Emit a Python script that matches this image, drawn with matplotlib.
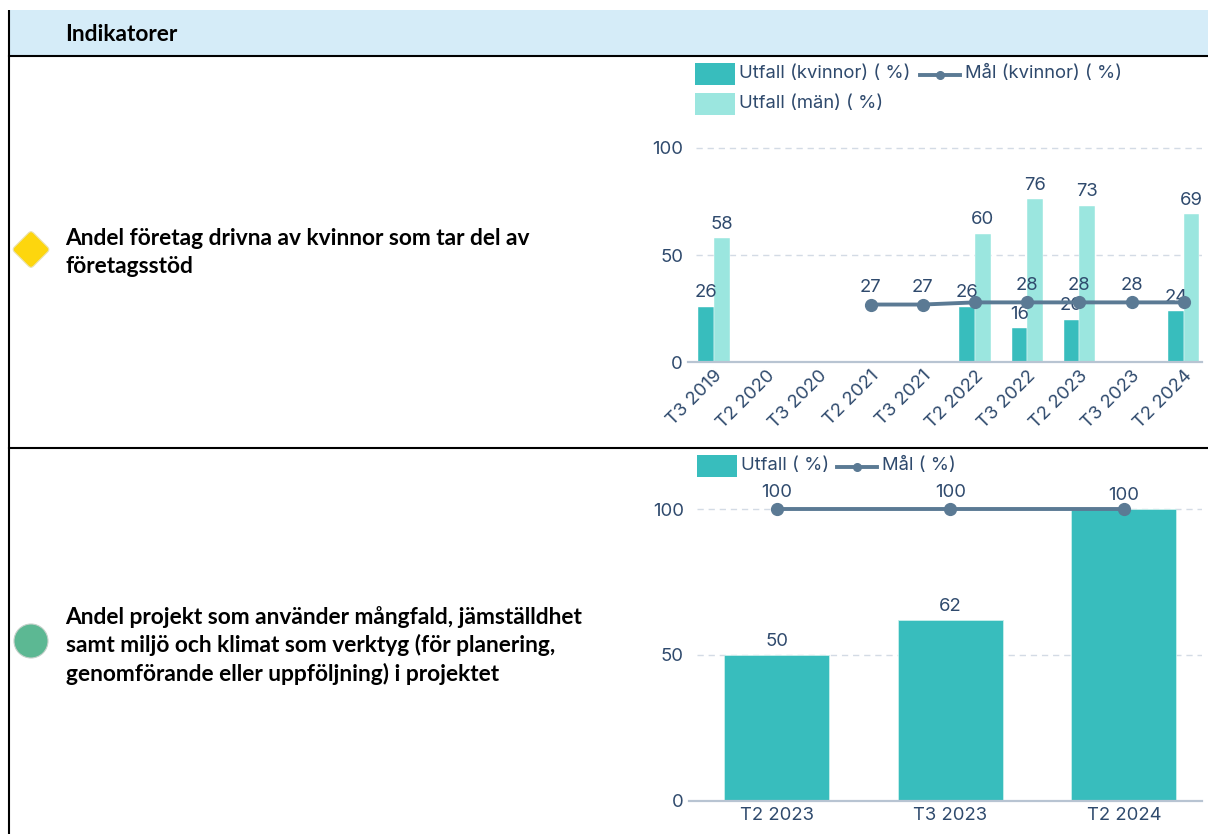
import matplotlib

matplotlib.use("Agg")
import matplotlib.pyplot as plt
import numpy as np
from matplotlib.patches import Circle, FancyBboxPatch, Rectangle
from matplotlib.transforms import Affine2D

FIG_W, FIG_H = 1208, 834

TEAL = "#38bdbd"
LIGHT_TEAL = "#9be6df"
LINE_COLOR = "#5b7a94"
TEXT_COLOR = "#2f4a6d"
GRID_COLOR = "#d3dbe5"
AXIS_COLOR = "#b8c4d2"
CHART_FONT = "Inter"
CHART_SIZE = 13.3
ROW_FONT = "Lato"
ROW_SIZE = 16.4

top_periods = ["T3 2019", "T2 2020", "T3 2020", "T2 2021", "T3 2021",
               "T2 2022", "T3 2022", "T2 2023", "T3 2023", "T2 2024"]
top_women = [26, None, None, None, None, 26, 16, 20, None, 24]
top_men = [58, None, None, None, None, 60, 76, 73, None, 69]
top_target = [None, None, None, 27, 27, 28, 28, 28, 28, 28]
# the source chart drops these target labels where they collide with a bar label
top_target_hidden = ["T2 2022", "T2 2024"]

bottom_periods = ["T2 2023", "T3 2023", "T2 2024"]
bottom_outcome = [50, 62, 100]
bottom_target = [100, 100, 100]
bottom_target_hidden = ["T2 2024"]

y_ticks = [0, 50, 100]


def axes_at(fig, left, top, right, bottom):
    """Add axes placed by pixel edges, measured from the top left corner."""
    return fig.add_axes([left / FIG_W, 1 - bottom / FIG_H,
                         (right - left) / FIG_W, (bottom - top) / FIG_H])


def to_array(values):
    return np.array([np.nan if v is None else v for v in values], dtype=float)


def style_axes(ax):
    ax.patch.set_alpha(0)
    ax.set_yticks(y_ticks)
    for side in ["top", "right", "left"]:
        ax.spines[side].set_visible(False)
    ax.spines["bottom"].set_color(AXIS_COLOR)
    ax.spines["bottom"].set_linewidth(1.6)
    ax.tick_params(axis="both", length=0, labelcolor=TEXT_COLOR, labelsize=CHART_SIZE)
    ax.tick_params(axis="y", pad=3.6)
    for label in ax.get_yticklabels():
        label.set_fontfamily(CHART_FONT)
    for value in y_ticks[1:]:
        ax.axhline(value, xmin=0.016, color=GRID_COLOR, linewidth=1,
                   linestyle=(0, (4.5, 3.5)), zorder=0)


def bar_labels(ax, xs, values):
    for x, value in zip(xs, values):
        if not np.isnan(value):
            ax.annotate(f"{value:.0f}", (x, value), xytext=(0, 10),
                        textcoords="offset points", ha="center", va="center",
                        color=TEXT_COLOR, fontsize=CHART_SIZE, family=CHART_FONT)


def target_line(ax, xs, values, periods, hidden):
    ax.plot(xs, values, color=LINE_COLOR, linewidth=2.8, marker="o",
            markersize=8.5, zorder=4)
    for x, value, period in zip(xs, values, periods):
        if np.isnan(value) or period in hidden:
            continue
        ax.annotate(f"{value:.0f}", (x, value), xytext=(0, 12.5),
                    textcoords="offset points", ha="center", va="center",
                    color=TEXT_COLOR, fontsize=CHART_SIZE, family=CHART_FONT, zorder=5)


fig = plt.figure(figsize=(FIG_W / 100, FIG_H / 100), dpi=100, facecolor="white")

# table frame, icons, row text and legends are laid out in pixels on this layer
page = fig.add_axes([0, 0, 1, 1])
page.set_xlim(0, FIG_W)
page.set_ylim(FIG_H, 0)
page.axis("off")

page.add_patch(Rectangle((9, 10), FIG_W - 9, 45, facecolor="#d5ecf8", edgecolor="none"))
page.plot([9, 9], [10, FIG_H], color="black", linewidth=1.5, solid_capstyle="butt")
page.plot([9, FIG_W], [55.5, 55.5], color="black", linewidth=1.5)
page.plot([9, FIG_W], [448, 448], color="black", linewidth=1.5)

page.text(65.5, 34, "Indikatorer", fontsize=ROW_SIZE, fontweight="bold",
          family=ROW_FONT, va="center", color="black")
page.text(65.5, 252.5, "Andel företag drivna av kvinnor som tar del av\nföretagsstöd",
          fontsize=ROW_SIZE, fontweight="bold", family=ROW_FONT, va="center",
          color="black", linespacing=1.38)
page.text(65.5, 645.5,
          "Andel projekt som använder mångfald, jämställdhet\n"
          "samt miljö och klimat som verktyg (för planering,\n"
          "genomförande eller uppföljning) i projektet",
          fontsize=ROW_SIZE, fontweight="bold", family=ROW_FONT, va="center",
          color="black", linespacing=1.38)

diamond = FancyBboxPatch((-13.5, -13.5), 27, 27, boxstyle="round,pad=0,rounding_size=3.5",
                         facecolor="#fdd60e", edgecolor="#e9e2b4", linewidth=0.8)
diamond.set_transform(Affine2D().rotate_deg(45).translate(31, 249.5) + page.transData)
page.add_patch(diamond)
page.add_patch(Circle((31, 641), 17, facecolor="#5cb893", edgecolor="#c3d0c9", linewidth=0.8))


def legend_box(x, y, color, text):
    page.add_patch(Rectangle((x, y), 40, 22, facecolor=color, edgecolor="none"))
    page.text(x + 44, y + 10.5, text, color=TEXT_COLOR, fontsize=CHART_SIZE,
              family=CHART_FONT, va="center")


def legend_line(x, y, text):
    page.plot([x, x + 40], [y, y], color=LINE_COLOR, linewidth=2.8)
    page.plot([x + 20], [y], color=LINE_COLOR, marker="o", markersize=5.5)
    page.text(x + 45, y - 1.5, text, color=TEXT_COLOR, fontsize=CHART_SIZE,
              family=CHART_FONT, va="center")


legend_box(695, 63, TEAL, "Utfall (kvinnor) ( %)")
legend_line(920, 75, "Mål (kvinnor) ( %)")
legend_box(695, 93, LIGHT_TEAL, "Utfall (män) ( %)")
legend_box(697, 455, TEAL, "Utfall ( %)")
legend_line(837, 467, "Mål ( %)")

# upper chart
ax1 = axes_at(fig, 688, 130, 1202, 362.5)
x1 = np.arange(len(top_periods))
women = to_array(top_women)
men = to_array(top_men)
target1 = to_array(top_target)
bar_w = 0.3
ax1.bar(x1 - bar_w / 2, np.nan_to_num(women), bar_w, color=TEAL, edgecolor="white", linewidth=0.3)
ax1.bar(x1 + bar_w / 2, np.nan_to_num(men), bar_w, color=LIGHT_TEAL, edgecolor="white", linewidth=0.3)
style_axes(ax1)
ax1.set_xticks(x1)
ax1.set_xticklabels(top_periods, rotation=45, ha="right", rotation_mode="anchor",
                    family=CHART_FONT)
ax1.set_xlim(-0.5, 9.35)
ax1.set_ylim(0, 108.3)
bar_labels(ax1, x1 - bar_w / 2, women)
bar_labels(ax1, x1 + bar_w / 2, men)
target_line(ax1, x1, target1, top_periods, top_target_hidden)

# lower chart
ax2 = axes_at(fig, 689, 490, 1202, 800.5)
x2 = np.arange(len(bottom_periods))
outcome = np.array(bottom_outcome, dtype=float)
target2 = np.array(bottom_target, dtype=float)
ax2.bar(x2, outcome, 0.605, color=TEAL, edgecolor="#c9f0ec", linewidth=0.6)
style_axes(ax2)
ax2.set_xticks(x2)
ax2.set_xticklabels(bottom_periods, family=CHART_FONT)
ax2.tick_params(axis="x", pad=5)
ax2.set_xlim(-0.505, 2.45)
ax2.set_ylim(0, 106.7)
bar_labels(ax2, x2, outcome)
target_line(ax2, x2, target2, bottom_periods, bottom_target_hidden)

fig.savefig("out.png", dpi=100)
plt.close(fig)
